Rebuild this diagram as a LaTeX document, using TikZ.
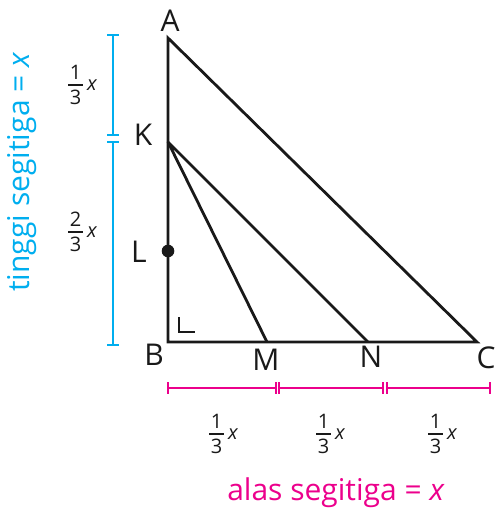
\documentclass[tikz,border=0pt]{standalone}
\usepackage{fontspec}
\setmainfont{Open Sans}
\usetikzlibrary{positioning}
\definecolor{tinggi}{HTML}{00AEEF}
\definecolor{alas}{HTML}{EC008C}
% fraction #1/3 followed by x, bar raised to the middle of the x
\newcommand{\sepertiga}[1]{\raisebox{\dimexpr-0.5\height+0.27em\relax}{\vbox{\hbox to 15pt{\hss#1\hss}\kern4.5pt\hrule height 1.3pt\kern4.5pt\hbox to 15pt{\hss 3\hss}}}\kern4pt\textit{x}}

\begin{document}
\begin{tikzpicture}[
    x=1pt, y=-1pt,
    side/.style={line width=2.8pt, draw=black!90},
    lbl/.style={font=\fontsize{30}{30}\selectfont, text=black!90},
    frac/.style={font=\fontsize{20}{20}\selectfont, text=black!90, inner sep=0pt, anchor=base west},
    bar/.style={line width=2.8pt, draw=#1},
]
\useasboundingbox (0,0) rectangle (498,511);

% triangle points
\coordinate (A) at (168,38);
\coordinate (B) at (168,342);
\coordinate (C) at (477,342);
\coordinate (K) at (168,142);
\coordinate (L) at (168,251);
\coordinate (M) at (267,342);
\coordinate (N) at (368,342);

% sides
\draw[side, line join=miter] (A) -- (B) -- (C) -- cycle;
\draw[side, line join=round] (M) -- (K) -- (N);
\fill[black!90] (L) circle (6.3pt);
\draw[line width=2.2pt, black!90] (179,317) -- (179,332) -- (195,332);

% point labels
\node[lbl] (lA) at (170,21) {A};
\node[lbl] (lK) at (143,135) {K};
\node[lbl] (lL) at (139,252) {L};
\node[lbl] (lB) at (154,355) {B};
\node[lbl] (lM) at (266,360) {M};
\node[lbl] (lN) at (371,357) {N};
\node[lbl] (lC) at (486,358) {C};

% tinggi
\draw[bar=tinggi] (113,35) -- (113,135);
\draw[bar=tinggi] (113,142) -- (113,345);
\foreach \y in {35,135,142,345}
  \draw[bar=tinggi] (107,\y) -- (119,\y);
\node[frac] (t1) at (68,90.4) {\sepertiga{1}};
\node[frac] (t2) at (68,237.4) {\sepertiga{2}};
\node[rotate=90, text=tinggi, font=\fontsize{30}{30}\selectfont] (tinggiLbl) at (22,172) {tinggi segitiga = \textit{x}};

% alas
\draw[bar=alas] (168,388) -- (276,388);
\draw[bar=alas] (279,388) -- (383,388);
\draw[bar=alas] (387,388) -- (490,388);
\foreach \x in {168,276,279,383,387,490}
  \draw[bar=alas] (\x,382) -- (\x,394);
\node[frac] (a1) at (209,439.4) {\sepertiga{1}};
\node[frac] (a2) at (316,439.4) {\sepertiga{1}};
\node[frac] (a3) at (428,439.4) {\sepertiga{1}};
\node[text=alas, font=\fontsize{30}{30}\selectfont] (alasLbl) at (336,493) {alas segitiga = \textit{x}};

\end{tikzpicture}
\end{document}
